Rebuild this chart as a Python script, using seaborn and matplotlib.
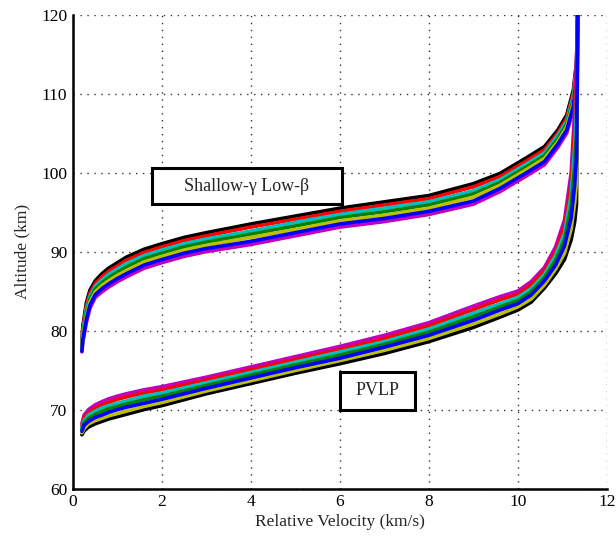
import pandas as pd
import matplotlib
matplotlib.use("Agg")
import matplotlib.pyplot as plt
import seaborn as sns
from matplotlib.patches import Rectangle

sns.set_style("white")
plt.rcParams['font.family'] = ['Liberation Serif', 'DejaVu Serif']

# --- velocity grids (km/s) ---
upper_v = [0.2, 0.22, 0.3, 0.38, 0.5, 0.65, 0.8, 1.0, 1.2, 1.6, 2, 2.5, 3, 4, 5, 6, 7, 8,
           9, 9.6, 10.2, 10.6, 10.9, 11.1, 11.25, 11.32, 11.35]
lower_v = [0.2, 0.25, 0.35, 0.5, 0.65, 0.8, 1.0, 1.2, 1.6, 2, 3, 4, 5, 6, 7, 8,
           9, 9.6, 10.0, 10.3, 10.6, 10.85, 11.05, 11.2, 11.28, 11.32, 11.35]

# --- altitudes (km), Shallow-gamma Low-beta bundle, top to bottom ---
upper_1 = [78.0, 80.5, 83.5, 85.1, 86.3, 87.2, 87.9, 88.6, 89.3, 90.3, 91.0, 91.8, 92.4, 93.5, 94.5, 95.5, 96.3, 97.1, 98.6, 99.9, 101.9, 103.3, 105.4, 107.3, 110.5, 114.0, 121]
upper_2 = [77.9, 80.2, 83.1, 84.7, 85.95, 86.8, 87.5, 88.2, 88.9, 89.9, 90.6, 91.4, 92.0, 93.1, 94.1, 95.1, 95.9, 96.7, 98.2, 99.5, 101.5, 102.9, 105.0, 106.9, 110.1, 113.7, 121]
upper_3 = [77.8, 79.8, 82.7, 84.3, 85.6, 86.4, 87.1, 87.8, 88.5, 89.5, 90.2, 91.0, 91.6, 92.6, 93.7, 94.7, 95.5, 96.3, 97.7, 99.1, 101.1, 102.5, 104.7, 106.5, 109.7, 113.3, 121]
upper_4 = [77.65, 79.5, 82.25, 83.95, 85.25, 86.05, 86.7, 87.4, 88.05, 89.1, 89.8, 90.6, 91.2, 92.2, 93.25, 94.3, 95.05, 95.9, 97.3, 98.75, 100.75, 102.15, 104.3, 106.15, 109.25, 113.0, 121]
upper_5 = [77.5, 79.2, 81.8, 83.6, 84.9, 85.7, 86.3, 87.0, 87.6, 88.7, 89.4, 90.2, 90.8, 91.8, 92.8, 93.9, 94.6, 95.5, 96.9, 98.4, 100.4, 101.8, 103.9, 105.8, 108.8, 112.7, 121]
upper_6 = [77.4, 78.8, 81.4, 83.2, 84.55, 85.3, 85.9, 86.6, 87.2, 88.3, 89.0, 89.8, 90.4, 91.3, 92.4, 93.5, 94.2, 95.1, 96.4, 98.0, 100.0, 101.4, 103.6, 105.4, 108.4, 112.3, 121]
upper_7 = [77.3, 78.5, 81.0, 82.8, 84.2, 84.9, 85.5, 86.2, 86.8, 87.9, 88.6, 89.4, 90.0, 90.9, 92.0, 93.1, 93.8, 94.7, 96.0, 97.6, 99.6, 101.0, 103.2, 105.0, 108.0, 112.0, 121]

# --- altitudes (km), PVLP bundle, top to bottom ---
lower_1 = [68.2, 69.3, 70.0, 70.6, 71.0, 71.35, 71.7, 72.0, 72.5, 72.9, 74.1, 75.4, 76.7, 78.0, 79.4, 81.0, 83.1, 84.3, 85.0, 86.2, 88.0, 90.6, 94.0, 100.0, 108.0, 114.0, 121]
lower_2 = [67.95, 69.0, 69.6, 70.2, 70.6, 70.9, 71.3, 71.6, 72.1, 72.5, 73.75, 75.05, 76.35, 77.6, 79.0, 80.6, 82.65, 83.9, 84.6, 85.8, 87.6, 90.0, 93.2, 98.6, 105.6, 111.0, 121]
lower_3 = [67.75, 68.6, 69.3, 69.8, 70.2, 70.5, 70.8, 71.1, 71.7, 72.1, 73.4, 74.7, 76.0, 77.3, 78.6, 80.2, 82.2, 83.4, 84.2, 85.3, 87.1, 89.5, 92.3, 97.2, 103.3, 108.0, 121]
lower_4 = [67.5, 68.3, 68.9, 69.4, 69.75, 70.1, 70.4, 70.7, 71.25, 71.7, 73.05, 74.35, 75.65, 76.9, 78.25, 79.8, 81.75, 83.0, 83.8, 84.9, 86.7, 88.9, 91.5, 95.75, 100.9, 105.0, 121]
lower_5 = [67.25, 68.0, 68.5, 69.0, 69.3, 69.65, 70.0, 70.3, 70.8, 71.3, 72.7, 74.0, 75.3, 76.5, 77.9, 79.4, 81.3, 82.6, 83.4, 84.5, 86.3, 88.3, 90.7, 94.3, 98.5, 102.0, 121]
lower_6 = [67.05, 67.6, 68.2, 68.6, 68.9, 69.2, 69.5, 69.8, 70.4, 70.9, 72.35, 73.65, 74.95, 76.2, 77.5, 79.0, 80.85, 82.1, 83.0, 84.0, 85.8, 87.8, 89.8, 92.9, 96.2, 99.0, 121]
lower_7 = [66.8, 67.3, 67.8, 68.2, 68.5, 68.8, 69.1, 69.4, 70.0, 70.5, 72.0, 73.3, 74.6, 75.8, 77.1, 78.6, 80.4, 81.7, 82.6, 83.6, 85.4, 87.2, 89.0, 91.5, 93.8, 96.0, 121]

# old MATLAB colour order
BLUE = (0, 0, 1)
GREEN = (0, 0.5, 0)
RED = (1, 0, 0)
TEAL = (0, 0.75, 0.75)
MAGENTA = (0.75, 0, 0.75)
OLIVE = (0.75, 0.75, 0)
BLACK = (0, 0, 0)

# listed in drawing order (later ones end up on top)
upper_curves = [upper_1, upper_7, upper_2, upper_3, upper_4, upper_5, upper_6]
upper_colors = [BLACK, MAGENTA, RED, TEAL, GREEN, OLIVE, BLUE]
lower_curves = [lower_7, lower_6, lower_1, lower_2, lower_3, lower_4, lower_5]
lower_colors = [BLACK, OLIVE, MAGENTA, RED, TEAL, GREEN, BLUE]

rows = []
palette = {}
for i, (h, c) in enumerate(zip(upper_curves, upper_colors)):
    name = f"up{i}"
    palette[name] = c
    rows += [{'v': v, 'h': a, 'curve': name} for v, a in zip(upper_v, h)]
for i, (h, c) in enumerate(zip(lower_curves, lower_colors)):
    name = f"lo{i}"
    palette[name] = c
    rows += [{'v': v, 'h': a, 'curve': name} for v, a in zip(lower_v, h)]
df = pd.DataFrame(rows)

fig = plt.figure(figsize=(6.16, 5.44), dpi=100)
ax = fig.add_axes([0.1185, 0.102, 0.8665, 0.871])

sns.lineplot(data=df, x='v', y='h', hue='curve', palette=palette,
             hue_order=list(palette.keys()), estimator=None, sort=False,
             linewidth=2.6, legend=False, ax=ax,
             solid_joinstyle='round', solid_capstyle='round')

ax.set_xlim(0, 12)
ax.set_ylim(60, 120)
ax.set_xticks(range(0, 13, 2))
ax.set_yticks(range(60, 121, 10))
ax.grid(True, linestyle=(0, (1, 4)), color='black', linewidth=1.0, alpha=0.8)
ax.set_axisbelow(True)

for side in ['top', 'right']:
    ax.spines[side].set_visible(False)
for side in ['left', 'bottom']:
    ax.spines[side].set_color('black')
    ax.spines[side].set_linewidth(1.8)

ax.tick_params(direction='in', length=4, width=1.5, labelsize=12.5,
               colors='black', pad=4)
ax.set_xlabel('Relative Velocity (km/s)', fontsize=12.5, labelpad=3)
ax.set_ylabel('Altitude (km)', fontsize=12.5, labelpad=8)

# label boxes
ax.add_patch(Rectangle((1.78, 96.0), 4.27, 4.55, facecolor='white',
                       edgecolor='black', linewidth=2.2, zorder=5))
ax.text(3.91, 98.3, 'Shallow-\u03b3 Low-\u03b2', ha='center', va='center',
        fontsize=13, zorder=6)
ax.add_patch(Rectangle((6.0, 69.9), 1.69, 4.9, facecolor='white',
                       edgecolor='black', linewidth=2.2, zorder=5))
ax.text(6.84, 72.35, 'PVLP', ha='center', va='center', fontsize=13, zorder=6)

fig.savefig('out.png', dpi=100)
